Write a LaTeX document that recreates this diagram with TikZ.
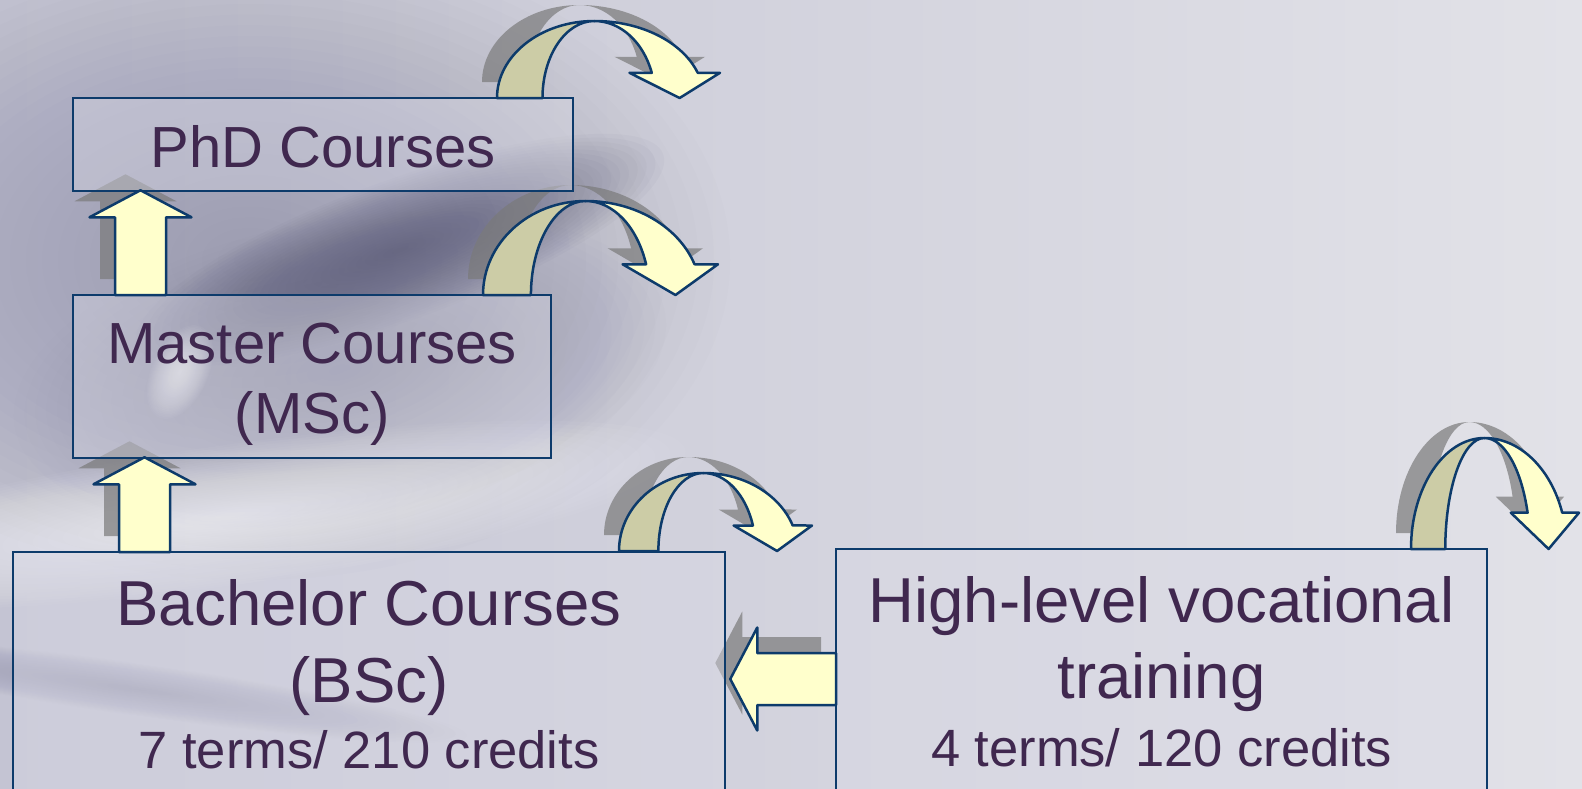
\documentclass[tikz,border=0pt]{standalone}
\usepackage{fontspec}
\setmainfont{Liberation Sans}
\usetikzlibrary{calc}

\definecolor{boxline}{HTML}{0D3B6B}
\definecolor{boxfill}{HTML}{DADAE6}
\definecolor{textpurple}{HTML}{40284F}
\definecolor{frontfill}{HTML}{FFFFCC}
\definecolor{backfill}{HTML}{CCCCA6}
\definecolor{shadowgrey}{HTML}{7A7A7A}
\definecolor{bgleft}{HTML}{C4C4D3}
\definecolor{bgright}{HTML}{E2E2E8}
\definecolor{cloudgrey}{HTML}{8A8AA4}
\definecolor{streakgrey}{HTML}{5A5A78}

\pgfdeclarelayer{backdrop}
\pgfdeclarelayer{shade}
\pgfsetlayers{backdrop,shade,main}

\tikzset{
  coursebox/.style={draw=boxline,line width=2.5pt,fill=boxfill,fill opacity=.4,inner sep=0pt},
  coursetext/.style={text=textpurple,anchor=base,inner sep=0pt,font=\fontsize{58}{70}\selectfont},
  bigtitle/.style={coursetext,font=\fontsize{63.5}{77}\selectfont},
  subtitle/.style={coursetext,font=\fontsize{52.5}{63}\selectfont},
  arrowline/.style={draw=boxline,line width=2.5pt,line join=round},
  shadowfill/.style={fill=shadowgrey,fill opacity=.7},
}

% soft blurred patch of the backdrop
\newcommand{\softblob}[6]{%
  \begin{scope}[shift={(#1)},rotate=#4]
    \foreach \k in {1,...,30}{\fill[#5,opacity=#6] (0,0) ellipse [x radius=#2*\k/30, y radius=#3*\k/30];}
  \end{scope}}

% block arrow going up from a foot point to the node above
\newcommand{\upblock}[3]{%
  \path[#3] let \p1=(#1), \p2=(#2.south) in
    (\x1-25.5pt,\y1) -- (\x1-25.5pt,\y2-25pt) -- (\x1-51pt,\y2-25pt) -- (\x1,\y2+2pt)
    -- (\x1+51pt,\y2-25pt) -- (\x1+25.5pt,\y2-25pt) -- (\x1+25.5pt,\y1) -- cycle;}

% block arrow going left from a foot point to the node on the left
\newcommand{\leftblock}[3]{%
  \path[#3] let \p1=(#1), \p2=(#2.east) in
    (\x1,\y1+26pt) -- (\x2+31pt,\y1+26pt) -- (\x2+31pt,\y1+51.5pt) -- (\x2+4pt,\y1)
    -- (\x2+31pt,\y1-51.5pt) -- (\x2+31pt,\y1-26pt) -- (\x1,\y1-26pt) -- cycle;}

% curved down arrow standing on a box: foot, width, height, back style, front style
\newcommand{\curvedarr}[5]{%
  \begin{scope}[shift={(#1)},xscale=#2,yscale=#3]
    \path[#4] (0,0) arc[start angle=180,end angle=270,x radius=.437,y radius=1]
      arc[start angle=270,end angle=180,x radius=.233,y radius=1] -- cycle;
    \path[#5] (.437,-1) arc[start angle=270,end angle=340.9,x radius=.49,y radius=1]
      -- (1,-.327) -- (.819,0) -- (.594,-.327) -- (.694,-.327)
      arc[start angle=340.9,end angle=270,x radius=.272,y radius=1] -- cycle;
  \end{scope}}

\begin{document}
\begin{tikzpicture}[x=1pt,y=-1pt]
\useasboundingbox (0,0) rectangle (1582,788);

%----------------------------------------------------- backdrop
\begin{pgfonlayer}{backdrop}
\shade[left color=bgleft,right color=bgright] (0,0) rectangle (1582,788);
\softblob{250,260}{480}{320}{0}{cloudgrey}{.028}
\softblob{340,370}{330}{150}{10}{cloudgrey}{.022}
\softblob{400,250}{280}{70}{20}{streakgrey}{.038}
\softblob{230,515}{460}{70}{8}{white}{.04}
\softblob{180,372}{28}{50}{-25}{white}{.04}
\softblob{140,690}{330}{26}{-8}{cloudgrey}{.022}
\softblob{1250,250}{450}{300}{0}{white}{.012}
\end{pgfonlayer}

%----------------------------------------------------- boxes
\node[coursebox,minimum width=500pt,minimum height=93pt] (phd) at (323,144.5) {};
\node[coursebox,minimum width=478pt,minimum height=163pt] (msc) at (312,376.5) {};
\node[coursebox,minimum width=712pt,minimum height=248pt] (bsc) at (369,676) {};
\node[coursebox,minimum width=651pt,minimum height=251pt] (voc) at (1161.5,674.5) {};

\coordinate (mscfoot) at (140.5,295);
\coordinate (bscfoot) at (144.5,552);
\coordinate (vocfoot) at (836,679);
\coordinate (phdturn) at (497,98);
\coordinate (mscturn) at (483,295);
\coordinate (bscturn) at (619,551);
\coordinate (vocturn) at (1411,549);

%----------------------------------------------------- shadows
\begin{pgfonlayer}{shade}
\begin{scope}[transform canvas={shift={(-15pt,16pt)}}]
\upblock{mscfoot}{phd}{shadowfill}
\upblock{bscfoot}{msc}{shadowfill}
\leftblock{vocfoot}{bsc}{shadowfill}
\curvedarr{phdturn}{223}{77}{shadowfill}{shadowfill}
\curvedarr{mscturn}{235}{94}{shadowfill}{shadowfill}
\curvedarr{bscturn}{193}{78}{shadowfill}{shadowfill}
\curvedarr{vocturn}{168}{111}{shadowfill}{shadowfill}
\end{scope}
\end{pgfonlayer}

%----------------------------------------------------- arrows
\upblock{mscfoot}{phd}{arrowline,fill=frontfill}
\upblock{bscfoot}{msc}{arrowline,fill=frontfill}
\leftblock{vocfoot}{bsc}{arrowline,fill=frontfill}
\curvedarr{phdturn}{223}{77}{arrowline,fill=backfill}{arrowline,fill=frontfill}
\curvedarr{mscturn}{235}{94}{arrowline,fill=backfill}{arrowline,fill=frontfill}
\curvedarr{bscturn}{193}{78}{arrowline,fill=backfill}{arrowline,fill=frontfill}
\curvedarr{vocturn}{168}{111}{arrowline,fill=backfill}{arrowline,fill=frontfill}

%----------------------------------------------------- texts
\node[coursetext] (phdtext) at (323,167) {PhD Courses};
\node[coursetext] (msctext1) at (312,363) {Master Courses};
\node[coursetext] (msctext2) at (312,433) {(MSc)};
\node[bigtitle] (bsctext1) at (369,625) {Bachelor Courses};
\node[bigtitle] (bsctext2) at (369,702) {(BSc)};
\node[subtitle] (bsctext3) at (369,768) {7 terms/ 210 credits};
\node[bigtitle] (voctext1) at (1161.5,622) {High-level vocational};
\node[bigtitle] (voctext2) at (1161.5,698) {training};
\node[subtitle] (voctext3) at (1161.5,766) {4 terms/ 120 credits};

\end{tikzpicture}
\end{document}
